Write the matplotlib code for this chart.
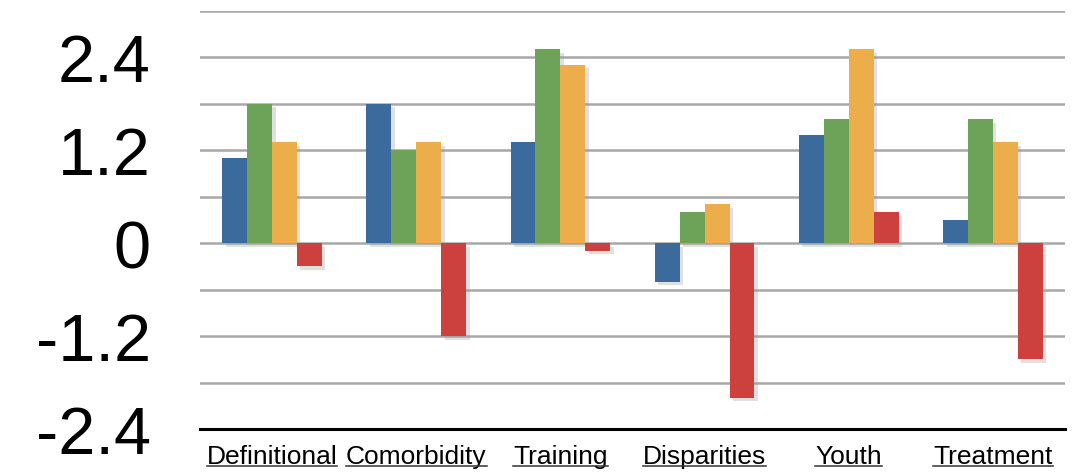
import numpy as np
import matplotlib
matplotlib.use("Agg")
import matplotlib.pyplot as plt
from matplotlib.lines import Line2D
import matplotlib.patheffects as pe

categories = ["Definitional", "Comorbidity", "Training", "Disparities", "Youth", "Treatment"]
series_blue = [1.1, 1.8, 1.3, -0.5, 1.4, 0.3]
series_green = [1.8, 1.2, 2.5, 0.4, 1.6, 1.6]
series_orange = [1.3, 1.3, 2.3, 0.5, 2.5, 1.3]
series_red = [-0.3, -1.2, -0.1, -2.0, 0.4, -1.5]
colors = ["#3B6B9C", "#6CA358", "#ECAE4A", "#CC413D"]

major_ticks = [-2.4, -1.2, 0.0, 1.2, 2.4]
major_labels = ["-2.4", "-1.2", "0", "1.2", "2.4"]
minor_ticks = [-1.8, -0.6, 0.6, 1.8, 3.0]

plt.rcParams["font.family"] = ["Liberation Sans", "DejaVu Sans"]

fig = plt.figure(figsize=(10.91, 4.77), dpi=100)
ax = fig.add_axes([200 / 1091, 1 - 430 / 477, 865 / 1091, (430 - 11.7) / 477])

x = np.arange(len(categories))
w = 0.173
shadow = [pe.SimplePatchShadow(offset=(2.5, -2.5), shadow_rgbFace="0.6", alpha=0.3), pe.Normal()]
for k, vals in enumerate([series_blue, series_green, series_orange, series_red]):
    bars = ax.bar(x + (k - 1.5) * w, vals, w, color=colors[k], zorder=3, linewidth=0)
    for b in bars:
        b.set_path_effects(shadow)

ax.set_xlim(-0.5, len(categories) - 0.5)
ax.set_ylim(-2.4, 3.0)
ax.set_yticks(major_ticks)
ax.set_yticklabels(major_labels)
ax.set_yticks(minor_ticks, minor=True)
ax.grid(axis="y", which="both", color="#a8a8a8", lw=1.8, zorder=1)
ax.tick_params(axis="y", which="both", length=0, labelsize=48, pad=35.5)
ax.set_xticks(x)
ax.set_xticklabels(categories)
ax.tick_params(axis="x", length=0, labelsize=19, pad=11)

for s in ["left", "right", "top"]:
    ax.spines[s].set_visible(False)
ax.spines["bottom"].set_linewidth(2.2)
ax.spines["bottom"].set_color("black")
ax.spines["bottom"].set_zorder(4)

# underline the category labels
fig.canvas.draw()
r = fig.canvas.get_renderer()
for lab in ax.get_xticklabels():
    bb = lab.get_window_extent(renderer=r)
    y = bb.y0 + 2.5
    fig.add_artist(Line2D([bb.x0 / 1091, bb.x1 / 1091], [y / 477, y / 477],
                          color="#333333", lw=1.1, transform=fig.transFigure))

fig.savefig("out.png", dpi=100)
